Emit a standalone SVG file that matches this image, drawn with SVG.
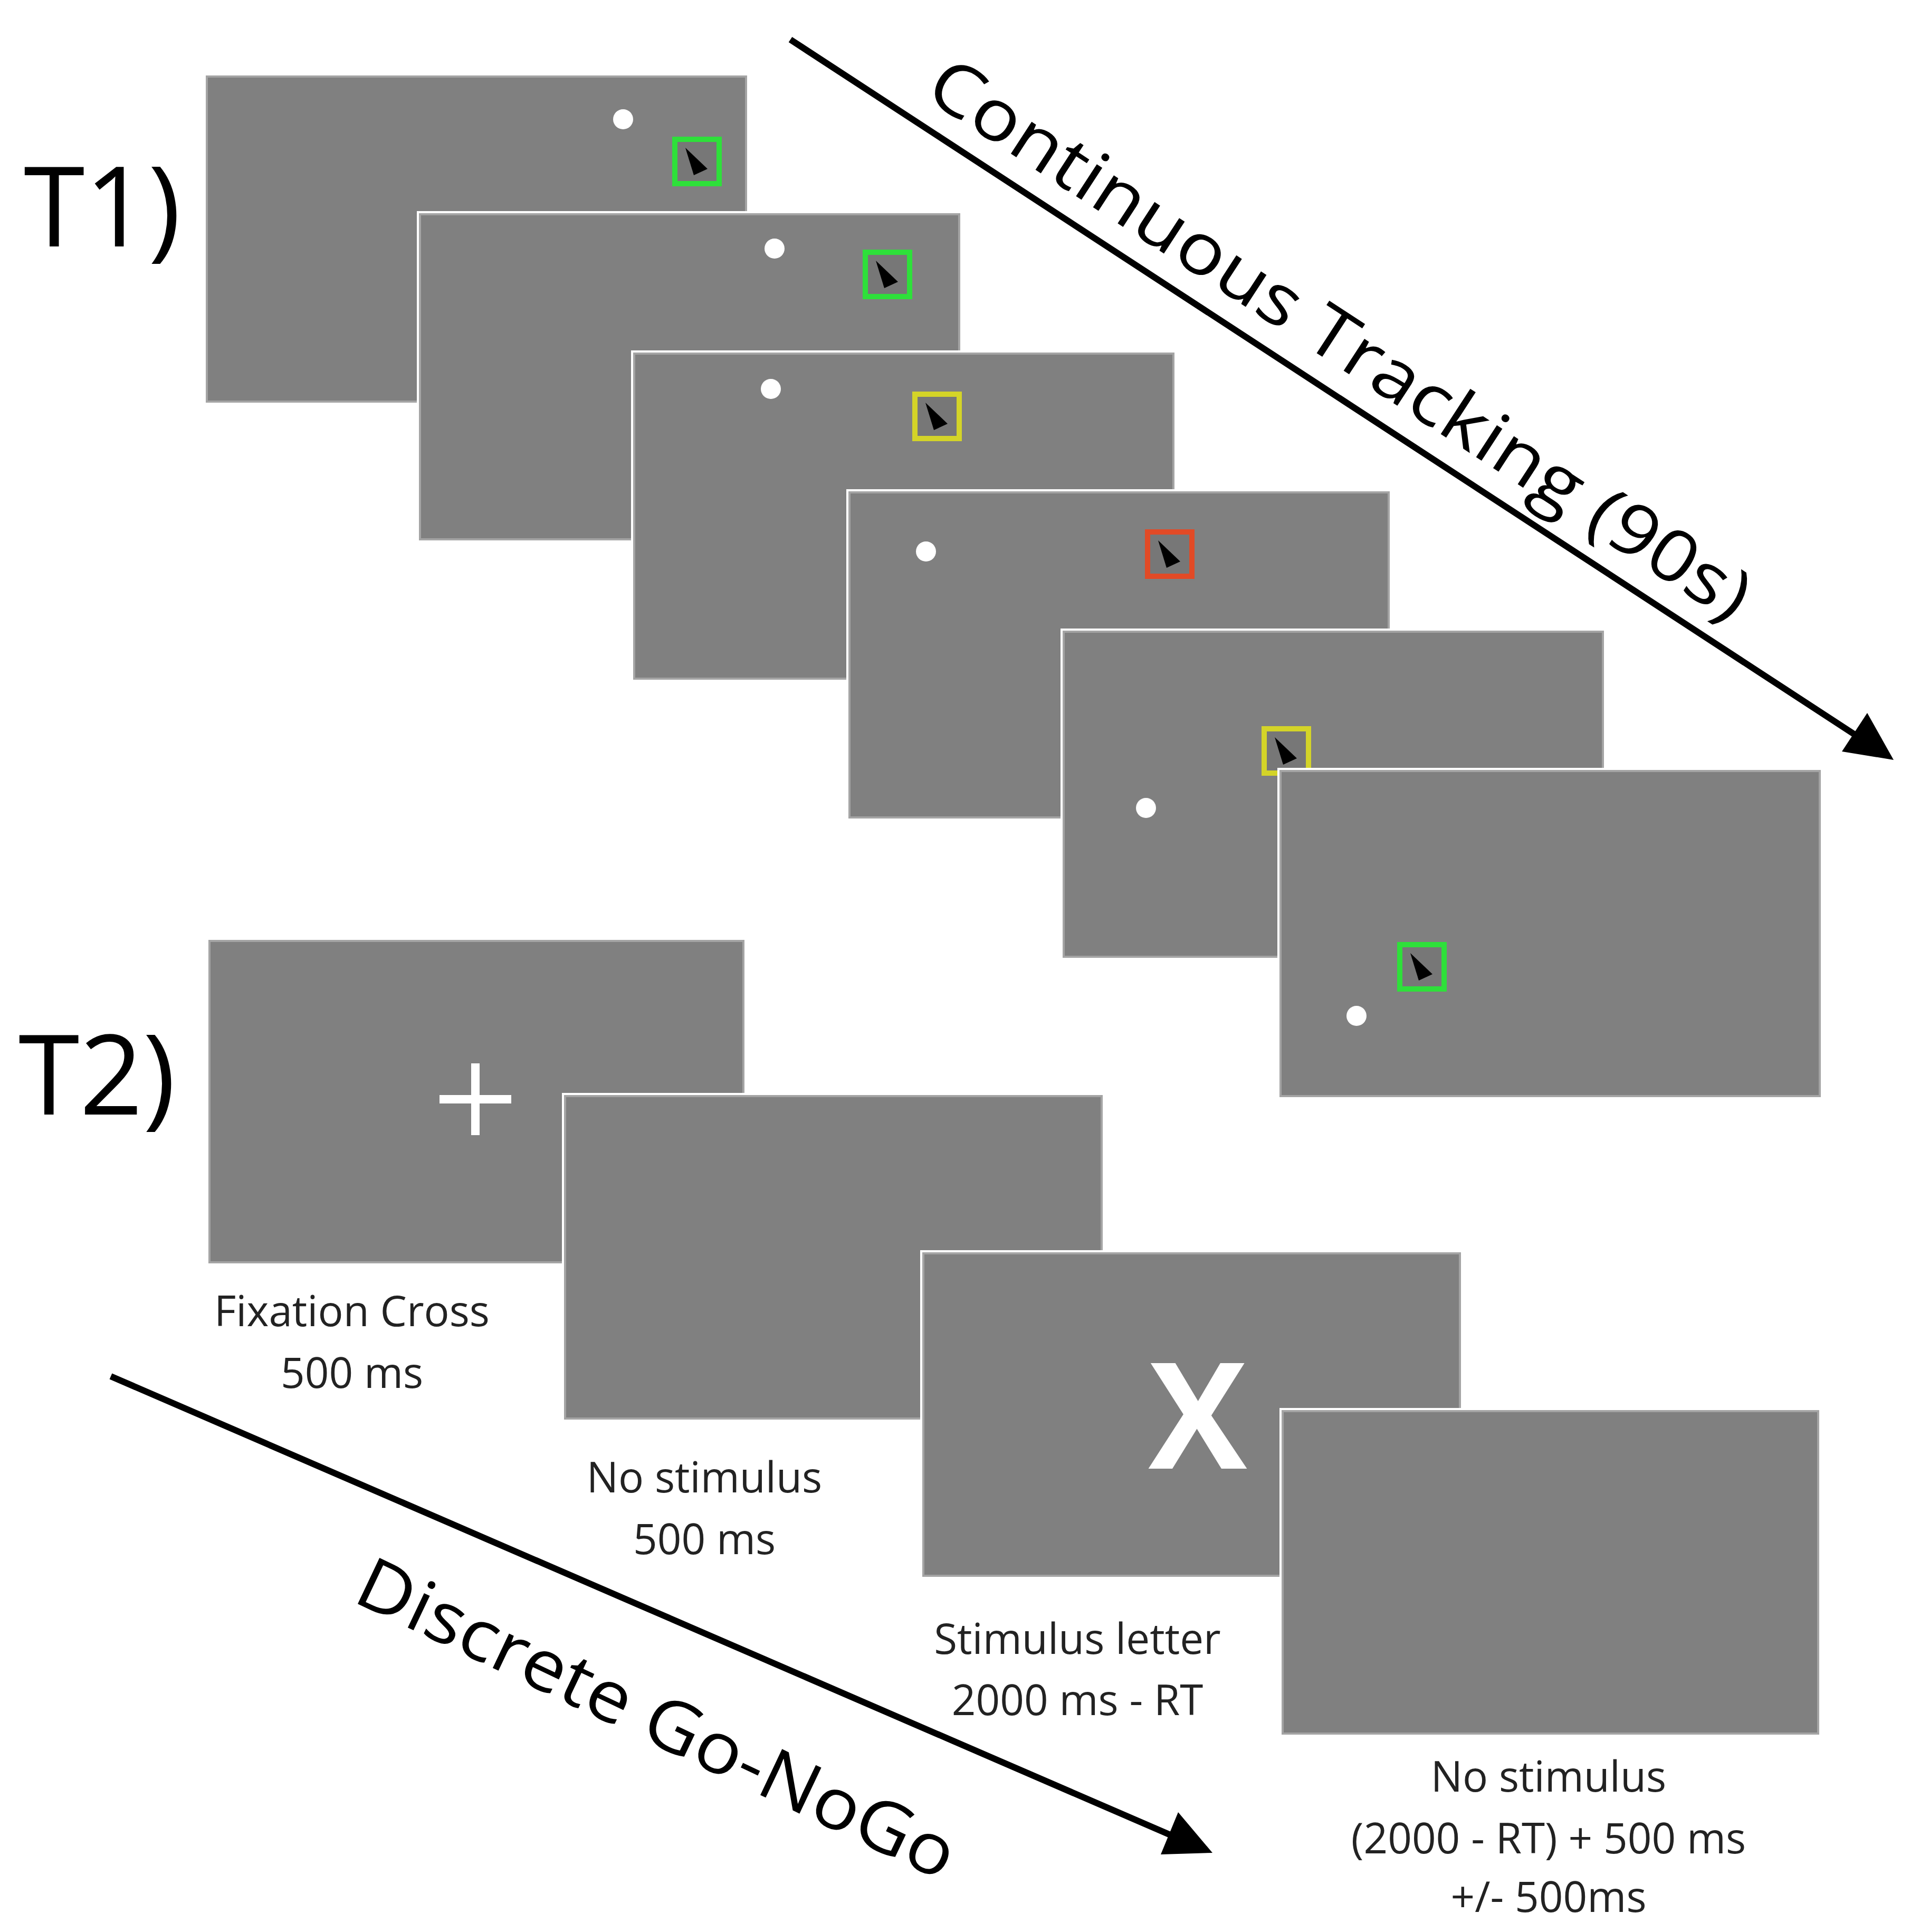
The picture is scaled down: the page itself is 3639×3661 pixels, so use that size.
<svg xmlns="http://www.w3.org/2000/svg" width="3639" height="3661" viewBox="0 0 3639 3661">
<defs>
<style>
.p{fill:#808080;stroke:#ffffff;stroke-width:12;paint-order:stroke}
.pb{fill:none;stroke:#a4a4a4;stroke-width:4}
.dot{fill:#ffffff}
.box{fill:#777777;stroke-width:10}
.g{stroke:#2ee03a}.y{stroke:#d4d428}.r{stroke:#e24a26}
.cur{fill:#000000}
.lbl{font-family:"Open Sans","Noto Sans",sans-serif;font-size:80px;fill:#222222;text-anchor:middle}
.big{font-family:"Open Sans","Noto Sans",sans-serif;fill:#000000}
.arr{stroke:#000000;stroke-width:12;fill:none}
</style>
<g id="cursor"><polygon class="cur" points="20,16 62,56 36,68"/></g>
</defs>
<rect width="3639" height="3661" fill="#ffffff"/>
<g id="T1">
<text class="big" x="45" y="467" font-size="210">T1)</text>
<g id="t1p1"><rect class="p" x="392" y="145" width="1022" height="616"/><rect class="pb" x="392" y="145" width="1022" height="616"/>
<circle class="dot" cx="1181" cy="226" r="19"/><rect class="box g" x="1279" y="264" width="84" height="84"/><use href="#cursor" x="1279" y="264"/></g>
<g id="t1p2"><rect class="p" x="796" y="406" width="1022" height="616"/><rect class="pb" x="796" y="406" width="1022" height="616"/>
<circle class="dot" cx="1468" cy="471" r="19"/><rect class="box g" x="1640" y="478" width="84" height="84"/><use href="#cursor" x="1640" y="478"/></g>
<g id="t1p3"><rect class="p" x="1202" y="670" width="1022" height="616"/><rect class="pb" x="1202" y="670" width="1022" height="616"/>
<circle class="dot" cx="1461" cy="737" r="19"/><rect class="box y" x="1734" y="747" width="84" height="84"/><use href="#cursor" x="1734" y="747"/></g>
<g id="t1p4"><rect class="p" x="1610" y="933" width="1022" height="616"/><rect class="pb" x="1610" y="933" width="1022" height="616"/>
<circle class="dot" cx="1755" cy="1045" r="19"/><rect class="box r" x="2175" y="1008" width="84" height="84"/><use href="#cursor" x="2175" y="1008"/></g>
<g id="t1p5"><rect class="p" x="2016" y="1197" width="1022" height="616"/><rect class="pb" x="2016" y="1197" width="1022" height="616"/>
<circle class="dot" cx="2172" cy="1531" r="19"/><rect class="box y" x="2396" y="1381" width="84" height="84"/><use href="#cursor" x="2396" y="1381"/></g>
<g id="t1p6"><rect class="p" x="2427" y="1461" width="1022" height="616"/><rect class="pb" x="2427" y="1461" width="1022" height="616"/>
<circle class="dot" cx="2571" cy="1925" r="19"/><rect class="box g" x="2653" y="1790" width="84" height="84"/><use href="#cursor" x="2653" y="1790"/></g>
</g>
<g id="T2">
<text class="big" x="35" y="2112" font-size="210">T2)</text>
<g id="t2p1"><rect class="p" x="397" y="1783" width="1012" height="609"/><rect class="pb" x="397" y="1783" width="1012" height="609"/>
<path d="M833 2083H969M901 2015V2151" stroke="#ffffff" stroke-width="16"/></g>
<g id="t2p2"><rect class="p" x="1071" y="2077" width="1017" height="611"/><rect class="pb" x="1071" y="2077" width="1017" height="611"/></g>
<g id="t2p3"><rect class="p" x="1750" y="2375" width="1017" height="611"/><rect class="pb" x="1750" y="2375" width="1017" height="611"/>
<text x="2270" y="2783" font-family="'Open Sans','Noto Sans',sans-serif" font-weight="bold" font-size="280" fill="#ffffff" text-anchor="middle">X</text></g>
<g id="t2p4"><rect class="p" x="2431" y="2674" width="1015" height="611"/><rect class="pb" x="2431" y="2674" width="1015" height="611"/></g>
<text class="lbl" x="667" y="2513">Fixation Cross</text>
<text class="lbl" x="667" y="2630">500 ms</text>
<text class="lbl" x="1335" y="2828">No stimulus</text>
<text class="lbl" x="1335" y="2945">500 ms</text>
<text class="lbl" x="2042" y="3134">Stimulus letter</text>
<text class="lbl" x="2042" y="3250">2000 ms - RT</text>
<text class="lbl" x="2935" y="3395">No stimulus</text>
<text class="lbl" x="2935" y="3512">(2000 - RT) + 500 ms</text>
<text class="lbl" x="2935" y="3623">+/- 500ms</text>
</g>
<g id="connectors">
<line class="arr" x1="1498" y1="75" x2="3520" y2="1395"/>
<polygon points="3589,1440 3491,1424 3539,1351" fill="#000000"/>
<line class="arr" x1="210" y1="2608" x2="2225" y2="3480"/>
<polygon points="2298,3511 2200,3514 2233,3434" fill="#000000"/>
<text class="big" font-size="135" transform="translate(1748,182) rotate(33.1)" textLength="1830" lengthAdjust="spacingAndGlyphs">Continuous Tracking (90s)</text>
<text class="big" font-size="135" transform="translate(665,3033) rotate(25.4)" textLength="1240" lengthAdjust="spacingAndGlyphs">Discrete Go-NoGo</text>
</g>
</svg>
